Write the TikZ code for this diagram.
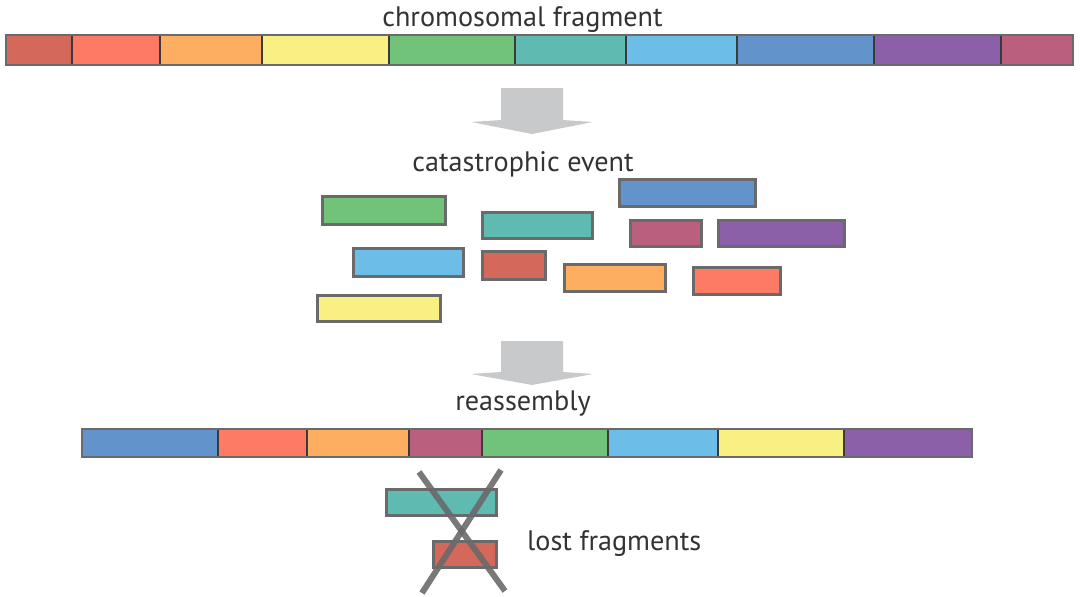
\documentclass[tikz,border=0pt]{standalone}
\usepackage{fontspec}
\setmainfont{PT Sans}
\definecolor{cred}{HTML}{D4685A}
\definecolor{csal}{HTML}{FD7B64}
\definecolor{cora}{HTML}{FDAE61}
\definecolor{cyel}{HTML}{F8F082}
\definecolor{cgre}{HTML}{72C37A}
\definecolor{ctea}{HTML}{5FBBB2}
\definecolor{clbl}{HTML}{6CBDE8}
\definecolor{cblu}{HTML}{6293CA}
\definecolor{cpur}{HTML}{8B60A8}
\definecolor{cpin}{HTML}{BB5F7E}
\definecolor{edge}{HTML}{6A6A6A}
\definecolor{divc}{HTML}{3A3A3A}
\definecolor{arr}{HTML}{C8C9CB}
\definecolor{txt}{HTML}{333333}
\begin{document}
\begin{tikzpicture}[x=1pt,y=-1pt,
  fragbox/.style={draw=edge,line width=3pt},
  divline/.style={draw=divc,line width=2.5pt},
  barframe/.style={draw=edge,line width=2pt},
  bigarrow/.style={fill=arr,draw=none},
  cross/.style={draw=edge,line width=6pt,opacity=0.9},
  lbl/.style={font=\fontsize{28.2}{33}\selectfont,text=txt,inner sep=0pt,anchor=base}]
\useasboundingbox (0,0) rectangle (1080,597);
% top bar
\fill[cred] (6,35) rectangle (72,65);
\fill[csal] (72,35) rectangle (160,65);
\fill[cora] (160,35) rectangle (262,65);
\fill[cyel] (262,35) rectangle (389,65);
\fill[cgre] (389,35) rectangle (515,65);
\fill[ctea] (515,35) rectangle (626,65);
\fill[clbl] (626,35) rectangle (737,65);
\fill[cblu] (737,35) rectangle (874,65);
\fill[cpur] (874,35) rectangle (1001,65);
\fill[cpin] (1001,35) rectangle (1073,65);
\foreach \xx in {72,160,262,389,515,626,737,874,1001}
  \draw[divline] (\xx,35) -- (\xx,65);
\draw[barframe] (6,35) rectangle (1073,65);
\node[lbl] (t1) at (522.5,26) {chromosomal fragment};
% arrow 1
\fill[bigarrow] (501,88) -- (563,88) -- (563,120) -- (593,122) -- (532,134) -- (471,122) -- (501,120) -- cycle;
\node[lbl] (t2) at (523,171) {catastrophic event};
% scattered fragments
\draw[fragbox,fill=cgre] (322.5,196.5) rectangle (445.5,224.5);
\draw[fragbox,fill=ctea] (482.5,212.5) rectangle (592.5,238.5);
\draw[fragbox,fill=clbl] (353.5,248.5) rectangle (463.5,276.5);
\draw[fragbox,fill=cred] (482.5,251.5) rectangle (545.5,279.5);
\draw[fragbox,fill=cyel] (317.5,295.5) rectangle (440.5,321.5);
\draw[fragbox,fill=cblu] (619.5,179.5) rectangle (755.5,206.5);
\draw[fragbox,fill=cpin] (630.5,220.5) rectangle (701.5,246.5);
\draw[fragbox,fill=cpur] (718.5,220.5) rectangle (844.5,246.5);
\draw[fragbox,fill=cora] (564.5,264.5) rectangle (665.5,291.5);
\draw[fragbox,fill=csal] (693.5,267.5) rectangle (780.5,294.5);
% arrow 2
\fill[bigarrow] (501,341) -- (563,341) -- (563,372) -- (593,374) -- (532,385) -- (471,374) -- (501,372) -- cycle;
\node[lbl] (t3) at (523,410) {reassembly};
% bottom bar
\fill[cblu] (82,429) rectangle (218,457);
\fill[csal] (218,429) rectangle (307,457);
\fill[cora] (307,429) rectangle (409,457);
\fill[cpin] (409,429) rectangle (482,457);
\fill[cgre] (482,429) rectangle (608,457);
\fill[clbl] (608,429) rectangle (718,457);
\fill[cyel] (718,429) rectangle (844,457);
\fill[cpur] (844,429) rectangle (972,457);
\foreach \xx in {218,307,409,482,608,718,844}
  \draw[divline] (\xx,429) -- (\xx,457);
\draw[barframe] (82,429) rectangle (972,457);
% lost fragments
\draw[fragbox,fill=ctea] (386.5,489.5) rectangle (496.5,515.5);
\draw[fragbox,fill=cred] (433.5,541.5) rectangle (496.5,567.5);
\coordinate (xa1) at (419,472);
\coordinate (xa2) at (505,591);
\coordinate (xb1) at (501,470);
\coordinate (xb2) at (422,593);
\draw[cross] (xa1) -- (xa2);
\draw[cross] (xb1) -- (xb2);
\node[lbl,anchor=base west] (t4) at (527,550) {lost fragments};
\end{tikzpicture}
\end{document}
